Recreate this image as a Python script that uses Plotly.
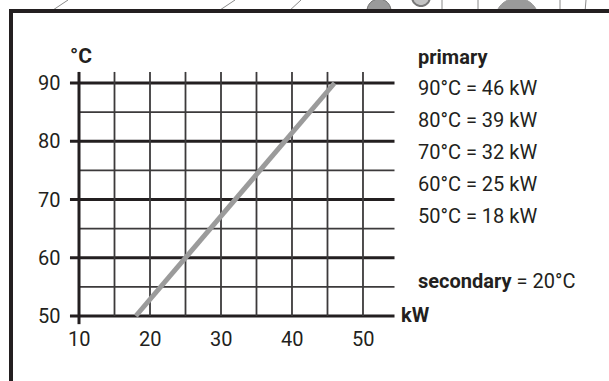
import math
import plotly.graph_objects as go

# Output of the heat exchanger: primary flow temperature vs. power
primary_temp = [50, 60, 70, 80, 90]      # °C
power_kw = [18, 25, 32, 39, 46]          # kW
secondary_temp = 20                      # °C

x_ticks = [10, 20, 30, 40, 50]
y_ticks = [50, 60, 70, 80, 90]
x_minor = [15, 25, 35, 45]
y_minor = [55, 65, 75, 85]

INK = "#231f20"
FONT = "Roboto, DejaVu Sans Condensed, sans-serif"

W, H = 609, 381
# the data axes span the whole page; these ranges place 10..50 kW and 50..90 °C
X_RANGE = [-1.127, 84.65]
Y_RANGE = [38.84, 104.25]


def px(x):
    return x / W


def py(y):
    return 1 - y / H


def disc_path(cx, cy, r, n=40):
    pts = []
    for i in range(n):
        a = 2 * math.pi * i / n
        pts.append((px(cx + r * math.cos(a)), py(cy + r * math.sin(a))))
    return "M " + " L ".join(f"{x:.5f},{y:.5f}" for x, y in pts) + " Z"


fig = go.Figure()

fig.add_trace(go.Scatter(
    x=power_kw, y=primary_temp, mode="lines",
    line=dict(color="#9b9b9b", width=5), hoverinfo="skip", showlegend=False,
))

shapes = []

# product drawing peeking over the frame (covered below the frame line)
deco = "#8a8a8a"
for (a, b, c, d) in [(50, 12, 68, 0), (217, 12, 235, 0), (288, 12, 301, 0),
                     (442, 12, 442, 0), (478, 12, 478, 0), (560, 12, 560, 0), (585, 12, 586, 0)]:
    shapes.append(dict(type="line", xref="paper", yref="paper", x0=px(a), y0=py(b),
                       x1=px(c), y1=py(d), line=dict(color=deco, width=1), layer="below"))
shapes.append(dict(type="path", xref="paper", yref="paper", path=disc_path(379, 11, 12),
                   fillcolor="#9a9a9a", line=dict(color="#6e6e6e", width=1), layer="below"))
shapes.append(dict(type="path", xref="paper", yref="paper", path=disc_path(421, -3, 9),
                   fillcolor="#c4c4c4", line=dict(color="#777777", width=2), layer="below"))
shapes.append(dict(type="path", xref="paper", yref="paper", path=disc_path(517, 20, 22),
                   fillcolor="#9a9a9a", line=dict(color="#9a9a9a", width=1), layer="below"))
shapes.append(dict(type="rect", xref="paper", yref="paper", x0=px(12), x1=1,
                   y0=0, y1=py(12), fillcolor="white", line=dict(width=0), layer="below"))

x_left_tick, x_right_end = 8.73, 54.44
y_bottom_tick, y_top_end = 48.6, 91.9

# horizontal grid: heavy at each 10 °C, light in between
for v in y_ticks:
    shapes.append(dict(type="line", xref="x", yref="y", x0=x_left_tick, x1=x_right_end,
                       y0=v, y1=v, line=dict(color=INK, width=3), layer="below"))
for v in y_minor:
    shapes.append(dict(type="line", xref="x", yref="y", x0=x_ticks[0], x1=x_right_end,
                       y0=v, y1=v, line=dict(color="#3c3a3b", width=1.6), layer="below"))
# vertical grid
for v in x_minor + x_ticks[1:]:
    shapes.append(dict(type="line", xref="x", yref="y", x0=v, x1=v,
                       y0=y_ticks[0], y1=y_top_end, line=dict(color="#3c3a3b", width=1.8),
                       layer="below"))
shapes.append(dict(type="line", xref="x", yref="y", x0=x_ticks[0], x1=x_ticks[0],
                   y0=y_bottom_tick, y1=y_top_end, line=dict(color=INK, width=3),
                   layer="below"))

# page frame
shapes.append(dict(type="line", xref="paper", yref="paper", x0=px(11), x1=px(11),
                   y0=py(9), y1=py(381), line=dict(color=INK, width=4)))
shapes.append(dict(type="line", xref="paper", yref="paper", x0=px(9), x1=px(609),
                   y0=py(11), y1=py(11), line=dict(color=INK, width=4)))

annotations = []
for v in y_ticks:
    annotations.append(dict(x=7.6, y=v, xref="x", yref="y", text=str(v), showarrow=False,
                            xanchor="right", yanchor="middle",
                            font=dict(family=FONT, size=20, color=INK)))
for v in x_ticks:
    annotations.append(dict(x=v, y=46.0, xref="x", yref="y", text=str(v), showarrow=False,
                            xanchor="center", yanchor="middle",
                            font=dict(family=FONT, size=20, color=INK)))

annotations.append(dict(x=px(68), y=py(56), xref="paper", yref="paper", text="<b>°C</b>",
                        showarrow=False, xanchor="left", yanchor="middle",
                        font=dict(family=FONT, size=21, color=INK)))
annotations.append(dict(x=px(399), y=py(315), xref="paper", yref="paper", text="<b>kW</b>",
                        showarrow=False, xanchor="left", yanchor="middle",
                        font=dict(family=FONT, size=20, color=INK)))

text_x = px(416)
annotations.append(dict(x=text_x, y=py(57), xref="paper", yref="paper", text="<b>primary</b>",
                        showarrow=False, xanchor="left", yanchor="middle",
                        font=dict(family=FONT, size=20, color=INK)))
for i, (t, k) in enumerate(zip(primary_temp[::-1], power_kw[::-1])):
    annotations.append(dict(x=text_x, y=py(88 + 32 * i), xref="paper", yref="paper",
                            text=f"{t}°C = {k} kW", showarrow=False,
                            xanchor="left", yanchor="middle",
                            font=dict(family=FONT, size=20, color=INK)))
annotations.append(dict(x=text_x, y=py(281), xref="paper", yref="paper",
                        text=f"<b>secondary</b> = {secondary_temp}°C", showarrow=False,
                        xanchor="left", yanchor="middle",
                        font=dict(family=FONT, size=20, color=INK)))

fig.update_layout(
    width=W, height=H, margin=dict(l=0, r=0, t=0, b=0),
    paper_bgcolor="white", plot_bgcolor="rgba(0,0,0,0)",
    xaxis=dict(range=X_RANGE, visible=False, fixedrange=True),
    yaxis=dict(range=Y_RANGE, visible=False, fixedrange=True),
    shapes=shapes, annotations=annotations,
)

fig.write_html("out.html")
